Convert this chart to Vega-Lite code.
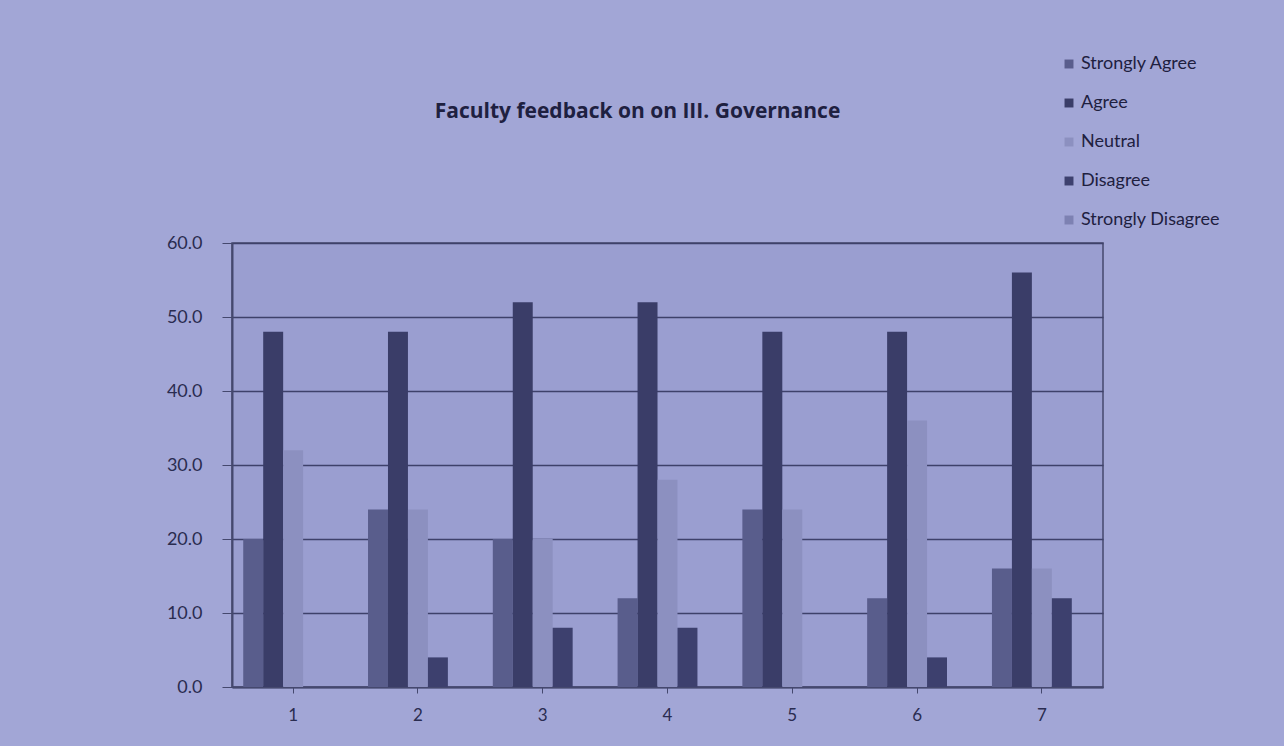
{
  "$schema": "https://vega.github.io/schema/vega-lite/v6.json",
  "autosize": "none",
  "width": 871,
  "height": 444,
  "padding": {"left": 232, "top": 243, "right": 181, "bottom": 59},
  "background": "#a2a6d6",
  "title": {
    "text": "Faculty feedback on on III. Governance",
    "font": "Open Sans",
    "fontSize": 21,
    "fontWeight": "bold",
    "color": "#1e2040",
    "anchor": "middle",
    "dx": -30,
    "offset": -67
  },
  "config": {
    "font": "Lato",
    "view": {"stroke": "#45486e", "strokeWidth": 1.5, "fill": "#9a9ed0"}
  },
  "data": {
    "values": [
      {"q": "1", "response": "Strongly Agree", "pct": 20},
      {"q": "1", "response": "Agree", "pct": 48},
      {"q": "1", "response": "Neutral", "pct": 32},
      {"q": "1", "response": "Disagree", "pct": 0},
      {"q": "1", "response": "Strongly Disagree", "pct": 0},
      {"q": "2", "response": "Strongly Agree", "pct": 24},
      {"q": "2", "response": "Agree", "pct": 48},
      {"q": "2", "response": "Neutral", "pct": 24},
      {"q": "2", "response": "Disagree", "pct": 4},
      {"q": "2", "response": "Strongly Disagree", "pct": 0},
      {"q": "3", "response": "Strongly Agree", "pct": 20},
      {"q": "3", "response": "Agree", "pct": 52},
      {"q": "3", "response": "Neutral", "pct": 20},
      {"q": "3", "response": "Disagree", "pct": 8},
      {"q": "3", "response": "Strongly Disagree", "pct": 0},
      {"q": "4", "response": "Strongly Agree", "pct": 12},
      {"q": "4", "response": "Agree", "pct": 52},
      {"q": "4", "response": "Neutral", "pct": 28},
      {"q": "4", "response": "Disagree", "pct": 8},
      {"q": "4", "response": "Strongly Disagree", "pct": 0},
      {"q": "5", "response": "Strongly Agree", "pct": 24},
      {"q": "5", "response": "Agree", "pct": 48},
      {"q": "5", "response": "Neutral", "pct": 24},
      {"q": "5", "response": "Disagree", "pct": 0},
      {"q": "5", "response": "Strongly Disagree", "pct": 0},
      {"q": "6", "response": "Strongly Agree", "pct": 12},
      {"q": "6", "response": "Agree", "pct": 48},
      {"q": "6", "response": "Neutral", "pct": 36},
      {"q": "6", "response": "Disagree", "pct": 4},
      {"q": "6", "response": "Strongly Disagree", "pct": 0},
      {"q": "7", "response": "Strongly Agree", "pct": 16},
      {"q": "7", "response": "Agree", "pct": 56},
      {"q": "7", "response": "Neutral", "pct": 16},
      {"q": "7", "response": "Disagree", "pct": 12},
      {"q": "7", "response": "Strongly Disagree", "pct": 0}
    ]
  },
  "mark": {"type": "bar"},
  "encoding": {
    "x": {
      "field": "q",
      "type": "nominal",
      "scale": {"paddingInner": 0.2, "paddingOuter": 0.09},
      "axis": {
        "title": null,
        "labelAngle": 0,
        "labelFont": "Lato",
        "labelFontSize": 17,
        "labelColor": "#2a2c50",
        "labelPadding": 14,
        "domainColor": "#45486e",
        "domainWidth": 2,
        "tickColor": "#45486e",
        "tickSize": 6
      }
    },
    "xOffset": {
      "field": "response",
      "type": "nominal",
      "sort": ["Strongly Agree", "Agree", "Neutral", "Disagree", "Strongly Disagree"],
      "scale": {"paddingInner": 0, "paddingOuter": 0}
    },
    "y": {
      "field": "pct",
      "type": "quantitative",
      "scale": {"domain": [0, 60]},
      "axis": {
        "title": null,
        "format": ".1f",
        "values": [0, 10, 20, 30, 40, 50, 60],
        "labelFont": "Lato",
        "labelFontSize": 18,
        "labelColor": "#2a2c50",
        "labelPadding": 20,
        "tickSize": 10,
        "tickColor": "#45486e",
        "domainColor": "#45486e",
        "domainWidth": 2,
        "gridColor": "#3e416a",
        "gridWidth": 1.5
      }
    },
    "color": {
      "field": "response",
      "type": "nominal",
      "sort": ["Strongly Agree", "Agree", "Neutral", "Disagree", "Strongly Disagree"],
      "scale": {
        "domain": ["Strongly Agree", "Agree", "Neutral", "Disagree", "Strongly Disagree"],
        "range": ["#595d8c", "#3a3d68", "#8c90c0", "#3d406e", "#7d81b2"]
      },
      "legend": {
        "title": null,
        "orient": "none",
        "legendX": 828,
        "legendY": -188,
        "symbolType": "square",
        "symbolSize": 80,
        "labelFont": "Lato",
        "labelFontSize": 18,
        "labelColor": "#1e2040",
        "rowPadding": 21,
        "labelOffset": 3
      }
    }
  }
}
